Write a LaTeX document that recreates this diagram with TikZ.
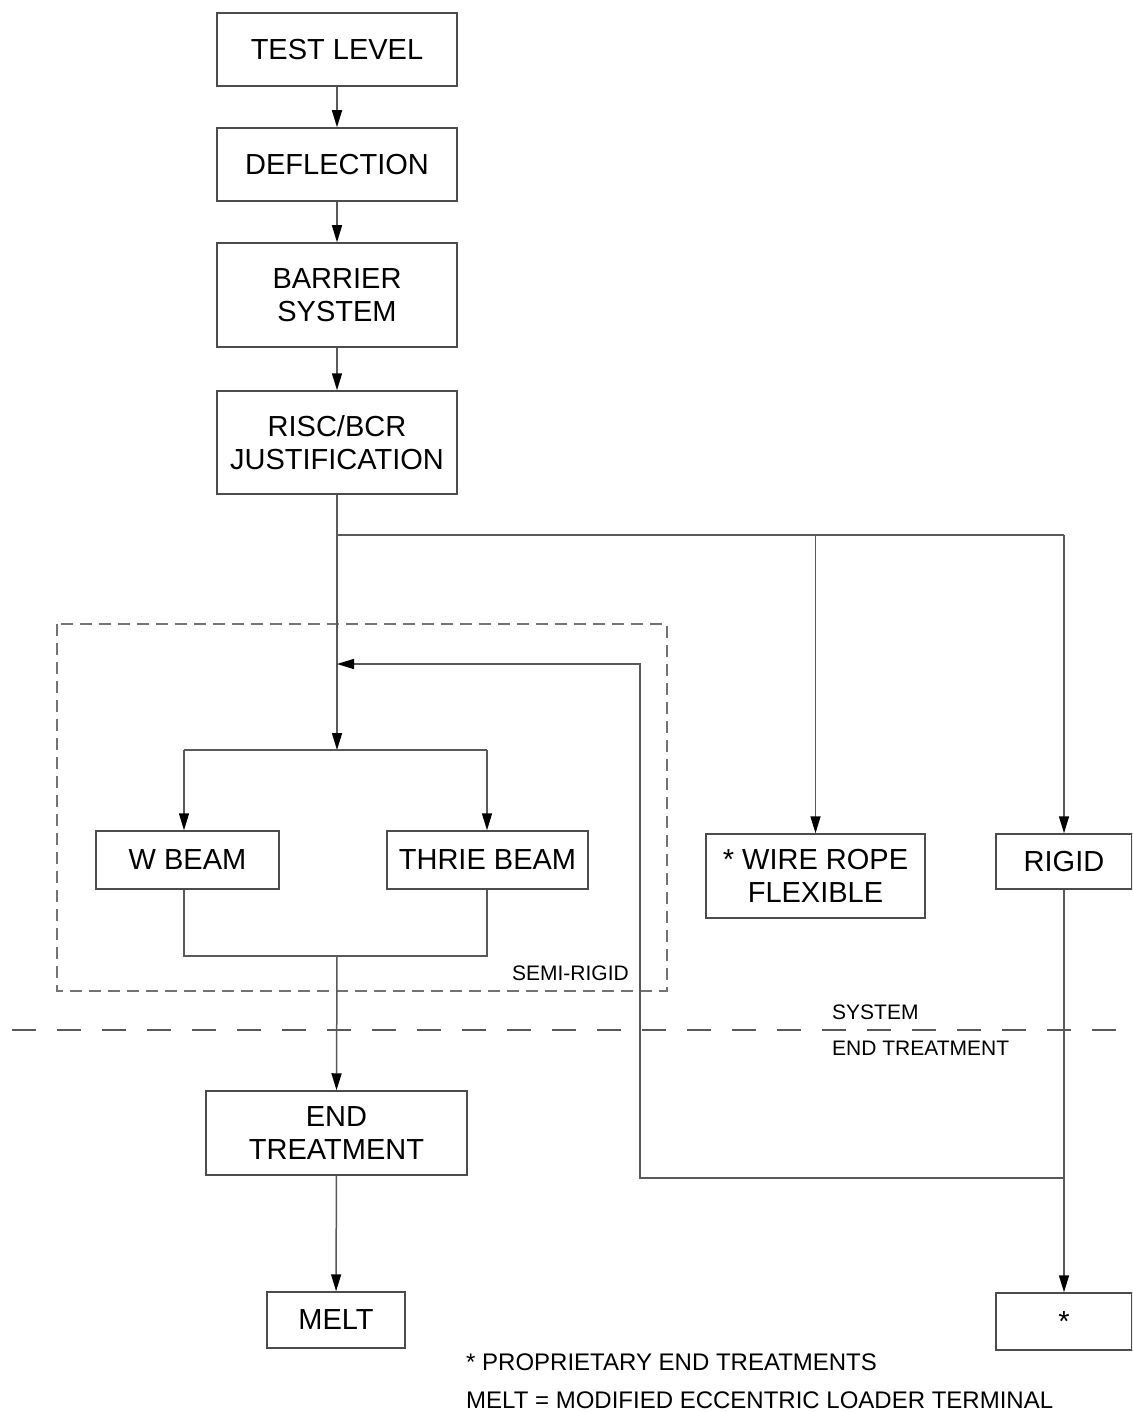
\documentclass[tikz,border=0pt]{standalone}
\usepackage{fontspec}
\setmainfont{Liberation Sans}
\usetikzlibrary{arrows.meta}
\begin{document}
\begin{tikzpicture}[x=1pt,y=-1pt,
  box/.style={draw=black!70,line width=1.5pt,fill=white,inner sep=0pt,align=center,
    font=\fontsize{29}{33}\selectfont},
  conn/.style={draw=black!65,line width=1.5pt},
  arr/.style={conn,-{Triangle[length=17pt,width=10pt,color=black]}},
  small/.style={inner sep=0pt,font=\fontsize{21}{25}\selectfont},
  note/.style={inner sep=0pt,anchor=west,font=\fontsize{24}{28}\selectfont}]
\useasboundingbox (0,0) rectangle (1132,1412);
\clip (0,0) rectangle (1132,1412);
\fill[white] (0,0) rectangle (1132,1412);

% system/end treatment divider
\draw[black!65,line width=1.5pt,dash pattern=on 24pt off 21pt] (12,1030) -- (1160,1030);
% semi-rigid dashed frame
\draw[black!55,line width=1.5pt,dash pattern=on 12pt off 7pt] (57,624) rectangle (667,991);

% boxes
\node[box,minimum width=240pt,minimum height=73pt] (tl) at (337,49.5) {TEST LEVEL};
\node[box,minimum width=240pt,minimum height=73pt] (defl) at (337,164.5) {DEFLECTION};
\node[box,minimum width=240pt,minimum height=104pt] (barr) at (337,295) {BARRIER\\SYSTEM};
\node[box,minimum width=240pt,minimum height=103pt] (risc) at (337,442.5) {RISC/BCR\\JUSTIFICATION};
\node[box,minimum width=183pt,minimum height=58pt] (wbeam) at (187.5,860) {W BEAM};
\node[box,minimum width=201pt,minimum height=58pt] (thrie) at (487.5,860) {THRIE BEAM};
\node[box,minimum width=219pt,minimum height=84pt] (wire) at (815.5,876) {* WIRE ROPE\\FLEXIBLE};
\node[box,minimum width=136pt,minimum height=55pt] (rigid) at (1064,861.5) {RIGID};
\node[box,minimum width=261pt,minimum height=84pt] (endt) at (336.5,1133) {END\\TREATMENT};
\node[box,minimum width=138pt,minimum height=56pt] (melt) at (336,1320) {MELT};
\node[box,minimum width=136pt,minimum height=57pt] (prop) at (1064,1321.5) {*};

% labels
\node[small,anchor=east] (semi) at (629,973) {SEMI-RIGID};
\node[small,anchor=west] (sys) at (832,1012) {SYSTEM};
\node[small,anchor=west] (etl) at (832,1048) {END TREATMENT};
\node[note] (n1) at (466,1362) {* PROPRIETARY END TREATMENTS};
\node[note] (n2) at (466,1400) {MELT = MODIFIED ECCENTRIC LOADER TERMINAL};

% junction coordinates
\coordinate (j1) at (337,535);
\coordinate (j2) at (337,750);
\coordinate (wl) at (184,750);
\coordinate (tr) at (487,750);
\coordinate (wb) at (184,956);
\coordinate (tb) at (487,956);
\coordinate (jm) at (337,956);
\coordinate (rj) at (1064,1178);
\coordinate (fb1) at (640,1178);
\coordinate (fb2) at (640,664);
\coordinate (fbe) at (337,664);

% connectors
\draw[arr] (tl) -- (defl);
\draw[arr] (defl) -- (barr);
\draw[arr] (barr) -- (risc);
\draw[arr] (risc.south) -- (j2);
\draw[conn] (j1) -- (j1 -| rigid.north);
\draw[arr] (j1 -| wire.north) -- (wire.north);
\draw[arr] (j1 -| rigid.north) -- (rigid.north);
\draw[conn] (wl) -- (tr);
\draw[arr] (wl) -- (wl |- wbeam.north);
\draw[arr] (tr) -- (tr |- thrie.north);
\draw[conn] (wl |- wbeam.south) -- (wb) -- (tb) -- (tr |- thrie.south);
\draw[arr] (jm) -- (endt.north);
\draw[arr] (endt) -- (melt);
\draw[arr] (rigid.south) -- (prop.north);
\draw[arr] (rj) -- (fb1) -- (fb2) -- (fbe);
\end{tikzpicture}
\end{document}
